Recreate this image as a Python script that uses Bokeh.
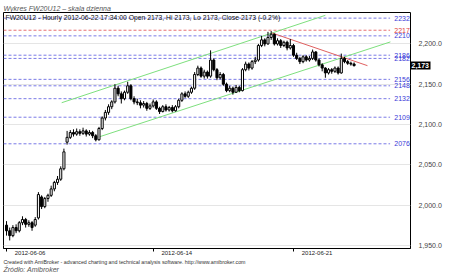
from bokeh.plotting import figure
from bokeh.models import (Range1d, FixedTicker, Label, ColumnDataSource, NumeralTickFormatter,
                          Title, LinearAxis)
from bokeh.core.properties import value
from bokeh.embed import file_html
from bokeh.resources import INLINE

# ---- data (hourly bars, FW20U12, 2012-06-06 .. 2012-06-22) ----
opens = [1975, 1968, 1962, 1972, 1968, 1978, 1982, 1976, 1978, 1975,
         1984, 2010, 1998, 2008, 2012, 2020, 2028, 2032, 2045, 2078,
         2084, 2090, 2088, 2091, 2089, 2092, 2088, 2090, 2086, 2081,
         2095, 2108, 2115, 2122, 2128, 2145, 2138, 2132, 2140, 2148,
         2132, 2128, 2127, 2124, 2126, 2120, 2123, 2128, 2120, 2116,
         2122, 2118, 2121, 2117, 2122, 2130, 2138, 2135, 2140, 2145,
         2162, 2170, 2160, 2165, 2160, 2180, 2168, 2158, 2162, 2150,
         2142, 2145, 2140, 2146, 2142, 2168, 2175, 2170, 2178, 2180,
         2198, 2205, 2200, 2208, 2212, 2200, 2204, 2198, 2202, 2195,
         2198, 2186, 2182, 2178, 2184, 2180, 2182, 2190, 2180, 2174,
         2170, 2164, 2168, 2166, 2170, 2164, 2182, 2178, 2176, 2175]
highs = [1980, 1972, 1975, 1976, 1980, 1986, 1984, 1981, 1980, 1985,
         2016, 2012, 2010, 2014, 2024, 2030, 2036, 2048, 2070, 2092,
         2093, 2094, 2095, 2094, 2096, 2094, 2093, 2092, 2088, 2097,
         2110, 2118, 2125, 2130, 2150, 2148, 2141, 2142, 2153, 2150,
         2135, 2132, 2130, 2129, 2128, 2126, 2131, 2130, 2122, 2124,
         2125, 2123, 2124, 2124, 2132, 2140, 2141, 2142, 2147, 2165,
         2173, 2172, 2168, 2167, 2192, 2182, 2170, 2165, 2164, 2152,
         2148, 2147, 2149, 2148, 2170, 2178, 2177, 2180, 2184, 2200,
         2210, 2207, 2215, 2216, 2213, 2207, 2206, 2204, 2204, 2206,
         2200, 2189, 2184, 2186, 2186, 2185, 2193, 2191, 2182, 2176,
         2171, 2170, 2170, 2172, 2172, 2188, 2184, 2180, 2178, 2177]
lows = [1962, 1956, 1960, 1965, 1966, 1975, 1972, 1973, 1968, 1973,
        1982, 1995, 1996, 2004, 2010, 2017, 2025, 2030, 2043, 2075,
        2082, 2085, 2086, 2086, 2087, 2085, 2086, 2083, 2079, 2080,
        2093, 2105, 2112, 2119, 2126, 2135, 2126, 2130, 2138, 2130,
        2125, 2124, 2120, 2121, 2117, 2118, 2121, 2118, 2113, 2115,
        2116, 2116, 2115, 2116, 2120, 2128, 2133, 2133, 2138, 2143,
        2160, 2158, 2157, 2157, 2158, 2166, 2155, 2156, 2148, 2140,
        2140, 2137, 2139, 2140, 2141, 2166, 2167, 2168, 2175, 2178,
        2196, 2197, 2199, 2205, 2198, 2198, 2195, 2196, 2192, 2193,
        2184, 2180, 2175, 2176, 2178, 2178, 2180, 2178, 2172, 2166,
        2158, 2162, 2163, 2164, 2162, 2163, 2176, 2174, 2173, 2172]
closes = [1968, 1962, 1972, 1968, 1978, 1982, 1976, 1978, 1972, 1982,
          2013, 1998, 2008, 2012, 2020, 2028, 2032, 2045, 2066, 2084,
          2090, 2088, 2091, 2089, 2092, 2088, 2090, 2086, 2081, 2095,
          2108, 2115, 2122, 2128, 2145, 2138, 2132, 2140, 2148, 2132,
          2128, 2127, 2124, 2126, 2120, 2123, 2128, 2120, 2116, 2122,
          2118, 2121, 2117, 2122, 2130, 2138, 2135, 2140, 2145, 2162,
          2170, 2160, 2165, 2160, 2180, 2168, 2158, 2162, 2150, 2142,
          2145, 2140, 2146, 2142, 2168, 2175, 2170, 2178, 2180, 2198,
          2205, 2200, 2208, 2212, 2200, 2204, 2198, 2202, 2195, 2198,
          2186, 2182, 2178, 2184, 2180, 2182, 2190, 2180, 2174, 2170,
          2164, 2168, 2166, 2170, 2164, 2182, 2178, 2176, 2175, 2173]

date_tick_bars = [0, 46, 90]
date_tick_labels = ["2012-06-06", "2012-06-14", "2012-06-21"]

support_levels = [2232, 2210, 2186, 2182, 2156, 2148, 2132, 2109, 2076]
red_level = 2217

price_ticks = [1950, 2000, 2050, 2100, 2150, 2200]
last_price = 2173
last_price_label = "2,173"

green_upper_x = [17.3, 100.0]
green_upper_y = [2127.0, 2235.5]
green_lower_x = [28.6, 120.4]
green_lower_y = [2084.0, 2202.5]
red_line_x = [83.3, 113.2]
red_line_y = [2213.5, 2173.0]

# ---- figure ----
FONT = "Liberation Sans"
x_start, x_end = -0.95, 126.7
p = figure(width=450, height=272, output_backend="svg", toolbar_location=None,
           x_range=Range1d(x_start, x_end), y_range=Range1d(1946.0, 2239.0),
           y_axis_location=None, min_border_left=3, min_border_right=40,
           min_border_top=12, min_border_bottom=18,
           title="Wykres FW20U12 \u2013 skala dzienna")
p.title.text_font = FONT
p.title.text_font_size = "7px"
p.title.text_font_style = "italic"
p.title.text_color = "#555555"
p.title.align = "left"
p.title.standoff = 2
p.title.offset = 0
p.background_fill_color = "white"
p.border_fill_color = "white"
p.outline_line_color = "black"
p.outline_line_width = 1
p.xgrid.visible = False

# last-price marker axis (inner, right next to the frame)
lp_axis = LinearAxis(ticker=FixedTicker(ticks=[last_price]),
                     major_label_overrides={last_price: last_price_label})
lp_axis.major_label_text_font = FONT
lp_axis.major_label_text_font_size = "7px"
lp_axis.major_label_text_color = "white"
lp_axis.major_label_text_font_style = "bold"
lp_axis.major_tick_out = 20
lp_axis.major_tick_in = 0
lp_axis.major_tick_line_width = 8
lp_axis.major_tick_line_color = "black"
lp_axis.minor_tick_out = 0
lp_axis.minor_tick_in = 0
lp_axis.axis_line_color = None
lp_axis.major_label_standoff = -19
p.add_layout(lp_axis, "right")

# right price axis
ya = LinearAxis(ticker=FixedTicker(ticks=price_ticks),
                formatter=NumeralTickFormatter(format="0,0.0"))
ya.major_label_text_font = FONT
ya.major_label_text_font_size = "7px"
ya.major_label_text_color = "#444444"
ya.major_tick_out = 0
ya.major_tick_in = 0
ya.minor_tick_out = 0
ya.minor_tick_in = 0
ya.axis_line_color = None
ya.major_label_standoff = -14
p.add_layout(ya, "right")

# date axis
xa = p.xaxis[0]
label_pos = [b + 7.4 for b in date_tick_bars]
xa.ticker = FixedTicker(ticks=label_pos, minor_ticks=date_tick_bars)
xa.major_label_overrides = {lp: t for lp, t in zip(label_pos, date_tick_labels)}
xa.major_label_text_font = FONT
xa.major_label_text_font_size = "6px"
xa.major_label_text_color = "#222222"
xa.major_tick_out = 0
xa.major_tick_in = 0
xa.minor_tick_out = 3
xa.minor_tick_in = 0
xa.minor_tick_line_color = "black"
xa.axis_line_color = "black"
xa.major_label_standoff = -1

# footer titles
t1 = Title(text="Created with AmiBroker - advanced charting and technical analysis software. http://www.amibroker.com",
           text_font=FONT, text_font_size="5.3px", text_font_style="normal",
           text_color="#333333", align="left", standoff=0)
t2 = Title(text="\u0179r\u00f3d\u0142o: Amibroker",
           text_font=FONT, text_font_size="7px", text_font_style="italic",
           text_color="#555555", align="left", standoff=0)
for t in (t1, t2):
    try:
        t.standoff = -1
    except Exception:
        pass
p.add_layout(t1, "below")
p.add_layout(t2, "below")

# horizontal levels
seg_end = 120.3
p.segment(x0=[x_start] * len(support_levels), x1=[seg_end] * len(support_levels),
          y0=support_levels, y1=support_levels, line_color="#7a7ae6",
          line_dash="3 2", line_width=1)
p.segment(x0=[x_start], x1=[seg_end], y0=[red_level], y1=[red_level],
          line_color="#e87070", line_dash="3 2", line_width=1)
p.text(x=[x_end - 0.2] * len(support_levels), y=support_levels,
       text=[str(v) for v in support_levels], text_align="right",
       text_baseline="middle", text_font=value(FONT), text_font_size="7px",
       text_color="#3a3ad8")
p.text(x=[x_end - 0.2], y=[red_level], text=[str(red_level)], text_align="right",
       text_baseline="middle", text_font=value(FONT), text_font_size="7px",
       text_color="#e04040")

# trend lines
p.line(green_upper_x, green_upper_y, line_color="#7ee07e", line_width=1)
p.line(green_lower_x, green_lower_y, line_color="#7ee07e", line_width=1)
p.line(red_line_x, red_line_y, line_color="#e06060", line_width=1)

# candles
n = len(closes)
xs = list(range(n))
src = ColumnDataSource(dict(
    x=xs, o=opens, h=highs, l=lows, c=closes,
    top=[max(o, c) for o, c in zip(opens, closes)],
    bottom=[min(o, c) for o, c in zip(opens, closes)],
    fill=["white" if c >= o else "black" for o, c in zip(opens, closes)],
))
p.segment(x0="x", x1="x", y0="h", y1="l", source=src, line_color="black", line_width=1)
p.vbar(x="x", width=0.65, top="top", bottom="bottom", source=src,
       fill_color="fill", line_color="black", line_width=1)

# header inside chart
p.add_layout(Label(x=2, y=2239.0, x_units="screen", y_units="data", y_offset=-1,
                   text="FW20U12 - Hourly 2012-06-22 17:34:00 Open 2173, Hi 2173, Lo 2173, Close 2173 (-0.2%)",
                   text_font=FONT, text_font_size="6.8px", text_color="#111111",
                   text_baseline="top"))

open("out.html", "w").write(file_html(p, INLINE))
